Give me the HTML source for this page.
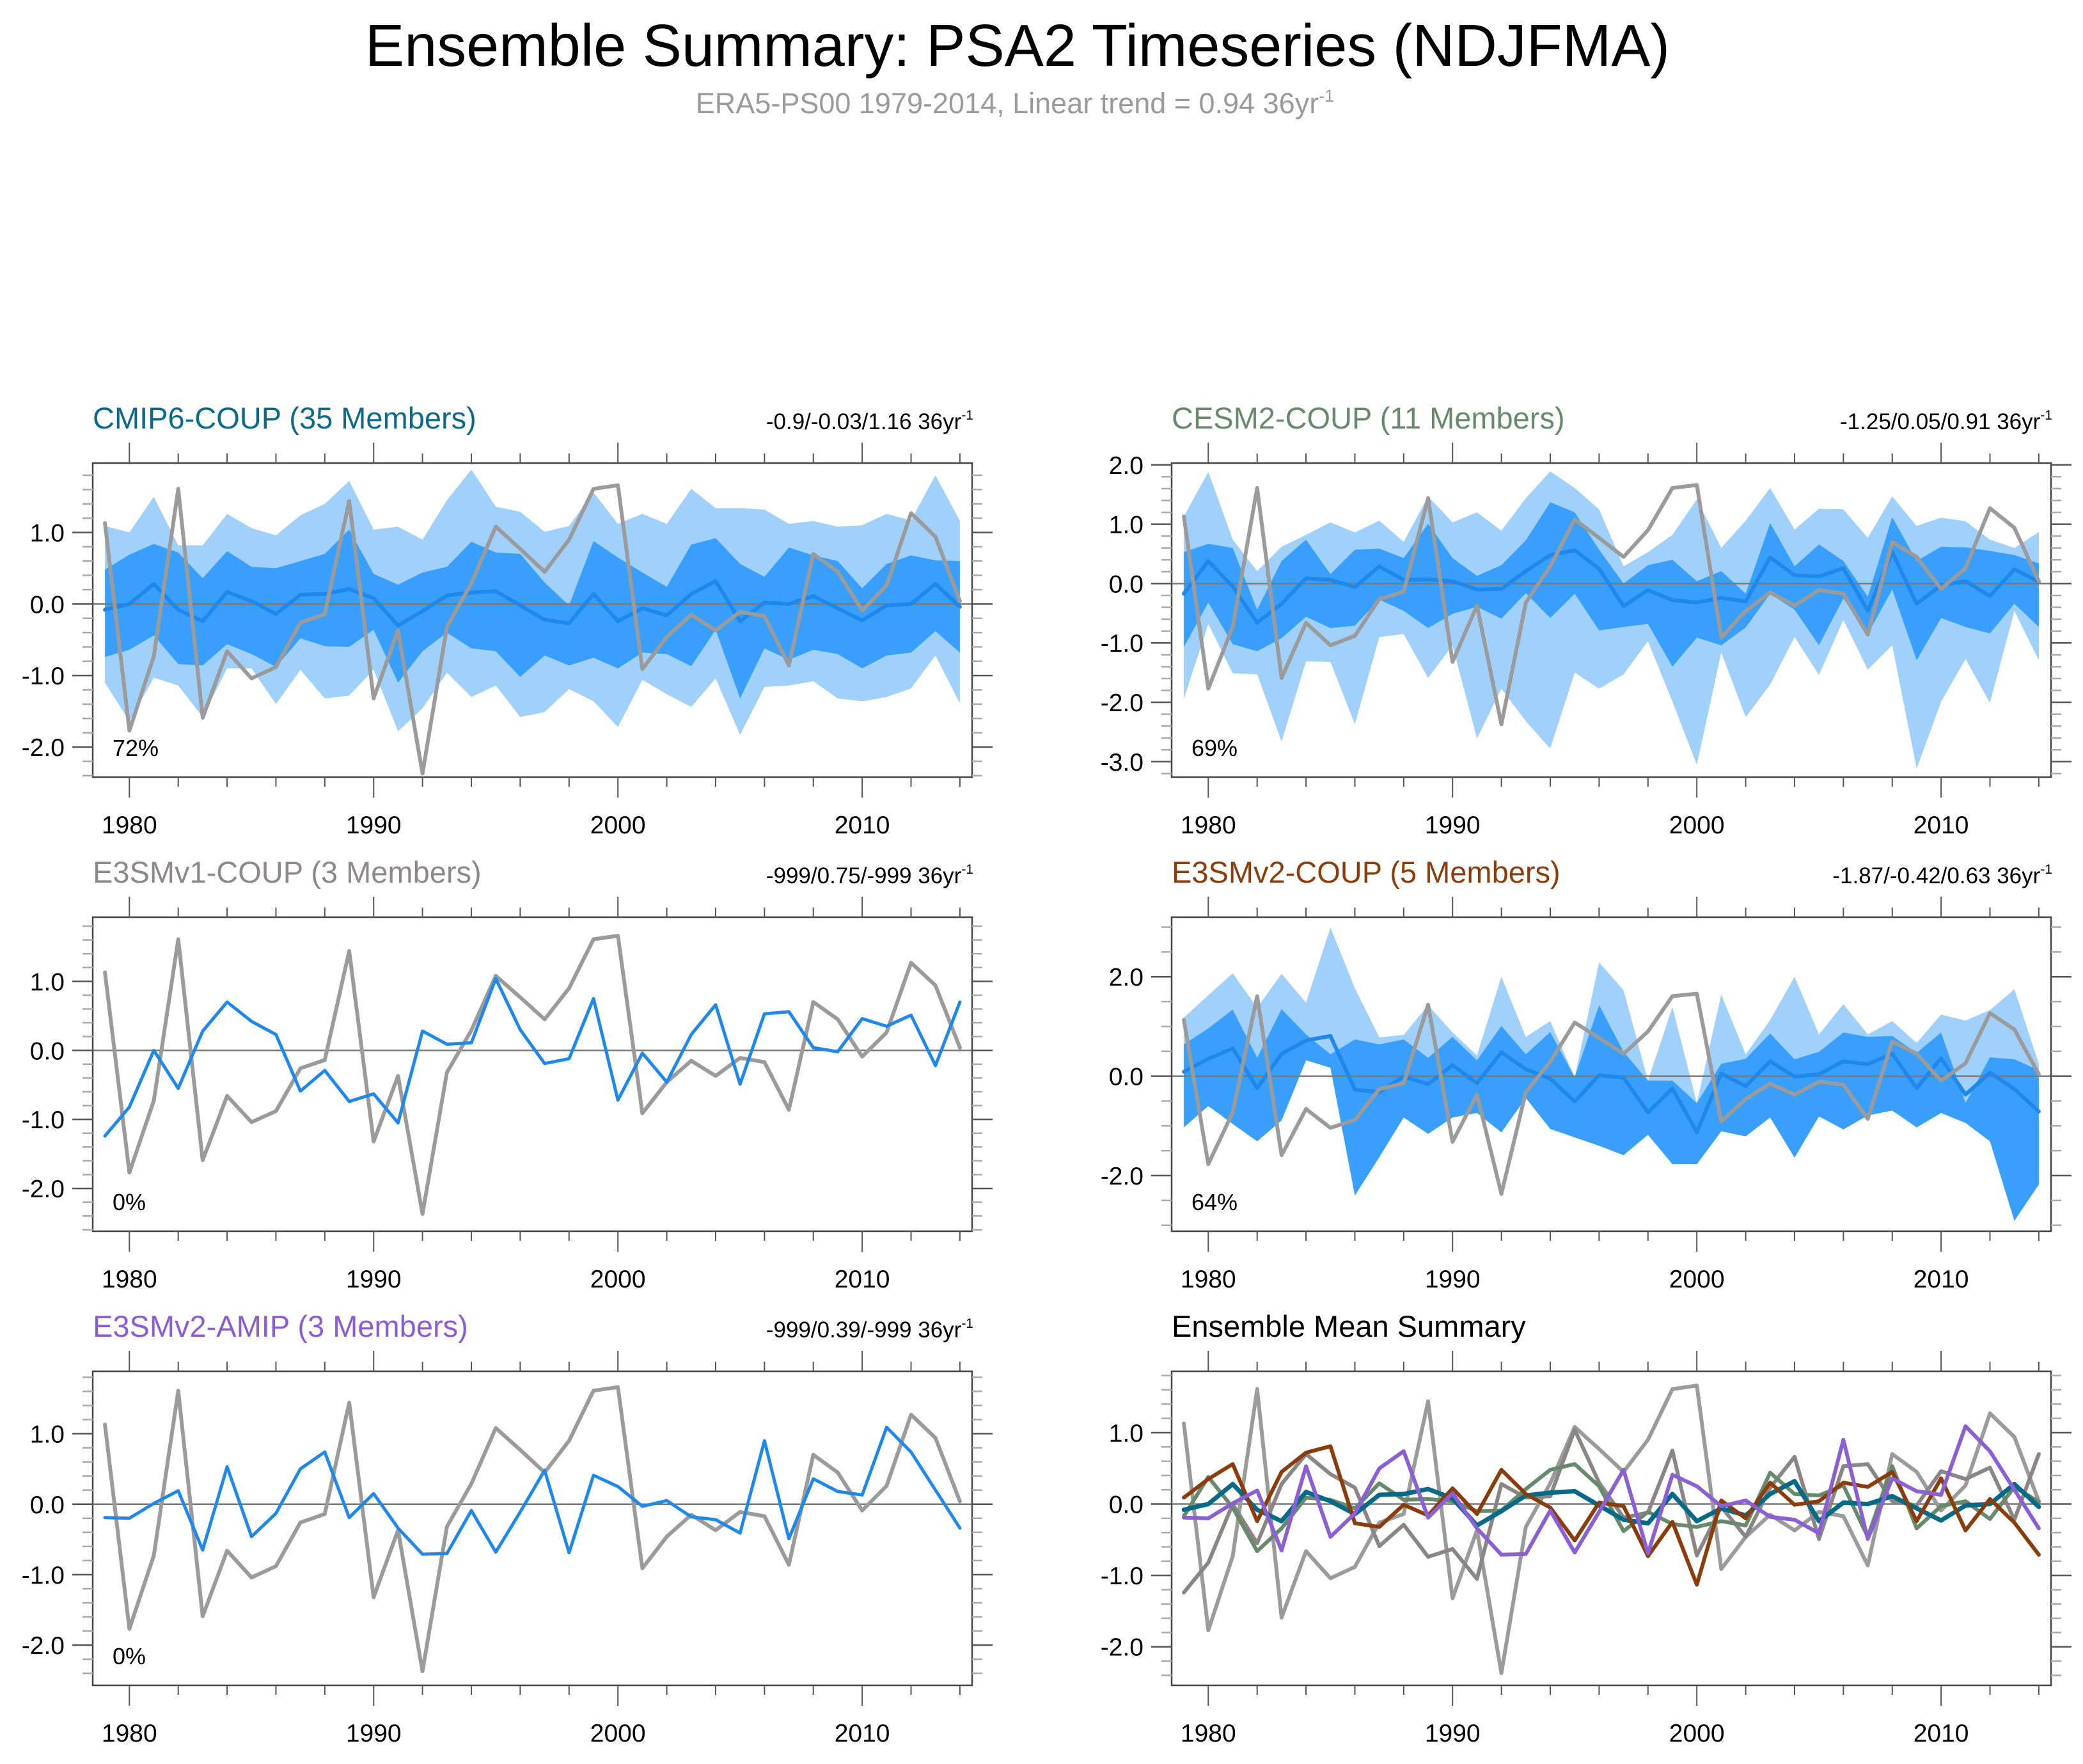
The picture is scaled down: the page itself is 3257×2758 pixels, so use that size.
<!DOCTYPE html>
<html><head><meta charset="utf-8">
<style>
html,body{margin:0;padding:0;background:#fff;}
svg{display:block;font-family:"Liberation Sans",Arial,sans-serif;}
</style></head>
<body>
<svg id="chart" xmlns="http://www.w3.org/2000/svg" width="3257" height="2758" viewBox="0 0 3257 2758">
<rect x="0" y="0" width="3257" height="2758" fill="#fff"/>
<text x="1591" y="103" font-size="93" text-anchor="middle" fill="#000" textLength="2040" lengthAdjust="spacingAndGlyphs">Ensemble Summary: PSA2 Timeseries (NDJFMA)</text>
<text x="1587" y="177" font-size="45" text-anchor="middle" fill="#9a9a9a">ERA5-PS00 1979-2014, Linear trend = 0.94 36yr<tspan font-size="27" dy="-18">-1</tspan></text>
</svg>
<script>
const years=[1979,1980,1981,1982,1983,1984,1985,1986,1987,1988,1989,1990,1991,1992,1993,1994,1995,1996,1997,1998,1999,2000,2001,2002,2003,2004,2005,2006,2007,2008,2009,2010,2011,2012,2013,2014];
const xTickLabels=[1980,1990,2000,2010];
const obs=[1.13,-1.77,-0.73,1.61,-1.59,-0.66,-1.04,-0.88,-0.26,-0.14,1.44,-1.32,-0.37,-2.37,-0.32,0.29,1.08,0.77,0.45,0.90,1.61,1.66,-0.91,-0.46,-0.15,-0.37,-0.11,-0.17,-0.86,0.70,0.45,-0.09,0.26,1.27,0.94,0.04];
// CMIP6
const cmipMean=[-0.08,0.00,0.28,-0.08,-0.24,0.17,0.04,-0.14,0.13,0.14,0.21,0.08,-0.30,-0.10,0.12,0.16,0.18,-0.02,-0.22,-0.27,0.14,-0.24,-0.06,-0.16,0.14,0.32,-0.24,0.02,0.00,0.11,-0.06,-0.23,-0.02,0.00,0.28,-0.04];
const cmipHi1=[0.48,0.69,0.84,0.72,0.36,0.74,0.52,0.50,0.60,0.70,1.04,0.42,0.27,0.44,0.52,0.87,0.72,0.70,0.30,-0.02,0.88,0.65,0.44,0.24,0.83,0.92,0.56,0.38,0.79,0.68,0.60,0.22,0.56,0.68,0.61,0.60];
const cmipLo1=[-0.74,-0.64,-0.44,-0.84,-0.86,-0.56,-0.70,-0.88,-0.48,-0.59,-0.60,-0.36,-1.10,-0.66,-0.40,-0.62,-0.66,-1.02,-0.72,-0.86,-0.75,-0.90,-0.68,-0.70,-0.87,-0.36,-1.32,-0.62,-0.78,-0.64,-0.70,-0.90,-0.72,-0.68,-0.38,-0.68];
const cmipHi2=[1.09,1.00,1.50,0.82,0.82,1.26,1.06,0.96,1.24,1.40,1.72,1.04,1.08,0.90,1.45,1.88,1.36,1.29,1.01,1.09,1.56,1.12,1.26,1.12,1.61,1.34,1.34,1.32,1.12,1.16,1.08,1.10,1.26,1.17,1.80,1.16];
const cmipLo2=[-1.10,-1.64,-1.03,-1.14,-1.58,-0.90,-0.90,-1.40,-0.92,-1.32,-1.28,-0.92,-1.78,-1.46,-0.96,-1.30,-1.14,-1.58,-1.51,-1.19,-1.36,-1.72,-1.06,-1.26,-1.44,-1.04,-1.83,-1.16,-1.14,-1.08,-1.32,-1.36,-1.30,-1.18,-0.72,-1.39];
// CESM2
const cesmMean=[-0.17,0.38,-0.05,-0.66,-0.34,0.09,0.06,-0.06,0.29,0.06,0.07,0.04,-0.10,-0.09,0.21,0.48,0.56,0.25,-0.38,-0.11,-0.28,-0.32,-0.24,-0.30,0.44,0.14,0.12,0.26,-0.46,0.53,-0.34,-0.03,0.04,-0.21,0.24,0.03];
const cesmHi1=[0.53,0.67,0.60,-0.44,0.38,0.74,0.16,0.57,0.59,0.43,1.01,0.43,0.13,0.31,0.73,1.37,1.20,0.57,0.00,0.31,0.40,0.04,0.21,-0.17,1.02,0.29,0.66,0.38,-0.22,1.12,0.38,0.62,0.61,0.55,0.48,0.34];
const cesmLo1=[-1.07,-0.32,-1.02,-1.14,-0.92,-0.56,-0.75,-0.71,-0.27,-0.46,-0.75,-0.51,-0.39,-0.59,-0.16,-0.58,-0.17,-0.79,-0.73,-0.68,-1.40,-0.91,-1.04,-0.74,-0.17,-0.44,-1.04,-0.25,-0.85,-0.10,-1.29,-0.58,-0.73,-0.84,-0.34,-0.73];
const cesmHi2=[1.13,1.88,0.74,0.21,0.62,0.82,1.03,0.86,1.06,0.70,1.47,1.03,1.20,0.89,1.44,1.89,1.61,1.25,0.29,0.53,0.82,1.42,0.60,1.06,1.61,0.91,1.26,1.25,0.77,1.47,0.97,1.11,1.05,0.74,0.60,0.87];
const cesmLo2=[-1.94,-0.68,-1.51,-1.53,-2.66,-1.31,-1.32,-2.37,-0.90,-0.85,-1.59,-1.04,-2.61,-1.77,-2.32,-2.78,-1.50,-1.77,-1.53,-0.97,-1.99,-3.05,-1.16,-2.25,-1.70,-0.90,-1.54,-0.61,-1.45,-1.04,-3.12,-1.99,-1.27,-2.01,-0.46,-1.29];
// E3SMv1
const v1Mean=[-1.24,-0.82,0.00,-0.55,0.28,0.70,0.42,0.23,-0.59,-0.29,-0.74,-0.63,-1.05,0.28,0.09,0.11,1.04,0.30,-0.19,-0.12,0.75,-0.72,-0.04,-0.46,0.23,0.66,-0.49,0.53,0.56,0.04,-0.02,0.46,0.35,0.51,-0.22,0.70];
// E3SMv2
const v2Mean=[0.09,0.35,0.56,-0.24,0.45,0.72,0.81,-0.27,-0.32,-0.01,-0.16,0.22,-0.14,0.48,0.14,-0.05,-0.51,0.02,-0.03,-0.73,-0.25,-1.13,0.05,-0.20,0.30,-0.01,0.04,0.30,0.24,0.45,-0.24,0.36,-0.37,0.07,-0.26,-0.71];
const v2Hi1=[0.64,0.96,1.34,0.37,1.35,0.84,0.44,0.74,0.64,0.74,0.37,0.79,0.32,1.01,0.44,0.89,-0.02,1.43,0.49,-0.09,-0.09,-0.54,0.25,0.35,0.86,0.34,0.49,0.88,0.79,0.81,0.47,0.88,-0.54,0.38,0.34,0.12];
const v2Lo1=[-1.03,-0.60,-0.96,-1.31,-0.89,0.32,0.17,-2.40,-1.63,-0.83,-1.16,-0.83,-0.74,-1.13,-0.44,-1.06,-1.23,-1.40,-1.59,-1.18,-1.77,-1.77,-1.11,-1.21,-0.83,-1.64,-0.81,-1.07,-0.79,-0.69,-1.03,-0.74,-0.94,-1.31,-2.91,-2.18];
const v2Hi2=[1.18,1.63,2.07,1.38,2.06,1.48,2.99,1.77,0.78,0.83,1.43,0.88,0.42,2.00,0.79,1.11,-0.02,2.29,1.73,-0.09,1.39,-0.54,1.64,0.44,1.13,2.00,0.84,1.45,0.84,1.11,0.67,1.24,1.12,1.33,1.75,0.25];
const v2Lo2=[-1.03,-0.60,-0.96,-1.31,-0.89,0.32,0.17,-2.40,-1.63,-0.83,-1.16,-0.83,-0.74,-1.13,-0.44,-1.06,-1.23,-1.40,-1.59,-1.18,-1.77,-1.77,-1.11,-1.21,-0.83,-1.64,-0.81,-1.07,-0.79,-0.69,-1.03,-0.74,-0.94,-1.31,-2.91,-2.18];
// E3SMv2-AMIP
const amipMean=[-0.19,-0.20,0.01,0.19,-0.65,0.53,-0.46,-0.13,0.50,0.74,-0.19,0.15,-0.34,-0.71,-0.70,-0.09,-0.68,-0.11,0.48,-0.69,0.41,0.25,-0.03,0.05,-0.18,-0.22,-0.41,0.90,-0.49,0.36,0.18,0.13,1.09,0.74,0.20,-0.34];

const NS='http://www.w3.org/2000/svg';
const svg=document.getElementById('chart');
const C={light:'#a0d0fc',dark:'#38a0fc',blue:'#1e88ec',obs:'#9b9b9b',axis:'#444'};

function mk(tag,attrs,parent){const e=document.createElementNS(NS,tag);for(const k in attrs)e.setAttribute(k,attrs[k]);(parent||svg).appendChild(e);return e;}

function drawPanel(p){
  const g=mk('g',{});
  
  
  const L=p.left,R=p.left+1375,T=p.top,B=p.top+491;
  const x0=1978.5,x1=2014.5;
  const xs=v=>L+(v-x0)/(x1-x0)*(R-L);
  const ys=v=>T+(p.ymax-v)/(p.ymax-p.ymin)*(B-T);
  function band(hi,lo,col,nm){
    let d='';
    years.forEach((yr,i)=>{d+=(i?'L':'M')+xs(yr).toFixed(1)+','+ys(hi[i]).toFixed(1);});
    for(let i=years.length-1;i>=0;i--){d+='L'+xs(years[i]).toFixed(1)+','+ys(lo[i]).toFixed(1);}
    const e=mk('path',{d:d+'Z',fill:col,stroke:'none'},g);
    
    
  }
  if(p.band2)band(p.band2[0],p.band2[1],C.light,'spread-band-outer');
  if(p.band1)band(p.band1[0],p.band1[1],C.dark,'spread-band-inner');
  const z=mk('line',{x1:L,x2:R,y1:ys(0),y2:ys(0),stroke:'#7a7a7a','stroke-width':2.5},g);
  
  
  function line(vals,col,w,nm){
    const pts=years.map((yr,i)=>xs(yr).toFixed(1)+','+ys(vals[i]).toFixed(1)).join(' ');
    const e=mk('polyline',{points:pts,fill:'none',stroke:col,'stroke-width':w,'stroke-linejoin':'round','stroke-linecap':'round'},g);
    
    
  }
  p.lines.forEach(s=>line(s.v,s.c,s.w,s.n));
  const bx=mk('rect',{x:L,y:T,width:R-L,height:B-T,fill:'none',stroke:C.axis,'stroke-width':2.5},g);
  
  
  const n0=Math.ceil(p.ymin/p.minor-1e-6),n1=Math.floor(p.ymax/p.minor+1e-6);
  for(let k=n0;k<=n1;k++){
    const v=k*p.minor;
    const major=Math.abs(v/p.major-Math.round(v/p.major))<1e-6;
    const len=major?32:16,yy=ys(v);
    mk('line',{x1:L-len,x2:L,y1:yy,y2:yy,stroke:major?'#555':'#aaa','stroke-width':2.5},g);
    mk('line',{x1:R,x2:R+len,y1:yy,y2:yy,stroke:major?'#555':'#aaa','stroke-width':2.5},g);
    if(major){
      const t=mk('text',{x:L-44,y:yy+14,'font-size':39,'text-anchor':'end',fill:'#000'},g);
      
      
      t.textContent=(Math.abs(v)<1e-9?0:v).toFixed(1);
    }
  }
  for(let yr=1980;yr<=2014;yr+=2){
    const major=yr%10===0,len=major?32:15,xx=xs(yr);
    mk('line',{x1:xx,x2:xx,y1:B,y2:B+len,stroke:'#555','stroke-width':2},g);
    mk('line',{x1:xx,x2:xx,y1:T-len,y2:T,stroke:'#555','stroke-width':2},g);
  }
  xTickLabels.forEach(yr=>{
    const t=mk('text',{x:xs(yr),y:B+88,'font-size':39,'text-anchor':'middle',fill:'#000'},g);
    
    
    t.textContent=yr;
  });
  const tt=mk('text',{x:L,y:T-54,'font-size':47,fill:p.tcol},g);
  
  
  tt.textContent=p.title;
  if(p.trend){
    const tr=mk('text',{x:R+2,y:T-53,'font-size':35,'text-anchor':'end',fill:'#000'},g);
    
    
    tr.textContent=p.trend+' 36yr';
    const sp=mk('tspan',{'font-size':21,dy:-15},tr);
    sp.textContent='-1';
  }
  if(p.pct){
    const pc=mk('text',{x:L+31,y:B-33,'font-size':36,fill:'#000'},g);
    
    
    pc.textContent=p.pct;
  }
}

const ob={v:obs,c:C.obs,w:6,n:'obs-era5-line'};
drawPanel({name:'panel-cmip6-coup',left:145,top:724,ymin:-2.42,ymax:1.97,minor:0.2,major:1,title:'CMIP6-COUP (35 Members)',tcol:'#0b6a8a',trend:'-0.9/-0.03/1.16',pct:'72%',band2:[cmipHi2,cmipLo2],band1:[cmipHi1,cmipLo1],lines:[{v:cmipMean,c:C.blue,w:6,n:'ensemble-mean-line'},ob]});
drawPanel({name:'panel-cesm2-coup',left:1832,top:724,ymin:-3.26,ymax:2.03,minor:0.2,major:1,title:'CESM2-COUP (11 Members)',tcol:'#668a6b',trend:'-1.25/0.05/0.91',pct:'69%',band2:[cesmHi2,cesmLo2],band1:[cesmHi1,cesmLo1],lines:[{v:cesmMean,c:C.blue,w:6,n:'ensemble-mean-line'},ob]});
drawPanel({name:'panel-e3smv1-coup',left:145,top:1434,ymin:-2.62,ymax:1.93,minor:0.2,major:1,title:'E3SMv1-COUP (3 Members)',tcol:'#8e8888',trend:'-999/0.75/-999',pct:'0%',lines:[ob,{v:v1Mean,c:C.blue,w:5,n:'ensemble-mean-line'}]});
drawPanel({name:'panel-e3smv2-coup',left:1832,top:1434,ymin:-3.12,ymax:3.2,minor:0.5,major:2,title:'E3SMv2-COUP (5 Members)',tcol:'#8b3e0c',trend:'-1.87/-0.42/0.63',pct:'64%',band2:[v2Hi2,v2Lo2],band1:[v2Hi1,v2Lo1],lines:[{v:v2Mean,c:C.blue,w:6,n:'ensemble-mean-line'},ob]});
drawPanel({name:'panel-e3smv2-amip',left:145,top:2144,ymin:-2.57,ymax:1.885,minor:0.2,major:1,title:'E3SMv2-AMIP (3 Members)',tcol:'#8a5cd6',trend:'-999/0.39/-999',pct:'0%',lines:[ob,{v:amipMean,c:C.blue,w:5,n:'ensemble-mean-line'}]});
drawPanel({name:'panel-ensemble-mean-summary',left:1832,top:2144,ymin:-2.54,ymax:1.86,minor:0.2,major:1,title:'Ensemble Mean Summary',tcol:'#000',lines:[
  {v:obs,c:'#9b9b9b',w:6,n:'obs-era5-line'},
  {v:v1Mean,c:'#8c8585',w:6,n:'e3smv1-mean-line'},
  {v:cesmMean,c:'#668a6b',w:6,n:'cesm2-mean-line'},
  {v:cmipMean,c:'#006a88',w:7,n:'cmip6-mean-line'},
  {v:v2Mean,c:'#8a3c0a',w:6,n:'e3smv2-mean-line'},
  {v:amipMean,c:'#8a60d4',w:6,n:'amip-mean-line'}]});
</script>
</body></html>
